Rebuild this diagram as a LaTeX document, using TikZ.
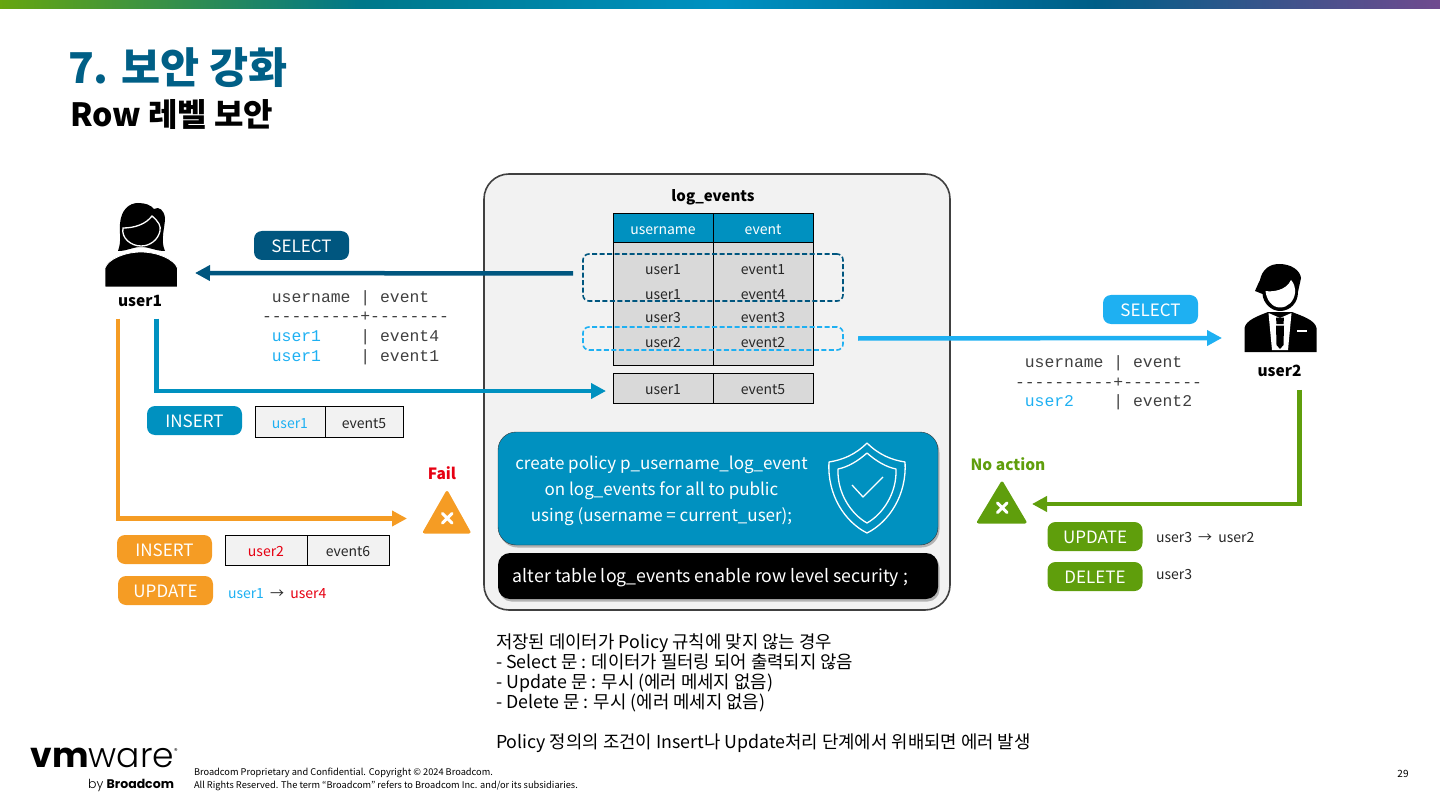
\documentclass[tikz,border=0pt]{standalone}
\usepackage{fontspec}
\setmainfont{Noto Sans CJK KR}
\newfontfamily\resultfont{Liberation Mono}
\newfontfamily\logofont{Poppins}
\newfontfamily\logolight{Poppins Light}
\usetikzlibrary{arrows.meta,positioning,shadows}
\definecolor{titleblue}{HTML}{005F86}
\definecolor{darkblue}{HTML}{00567F}
\definecolor{midblue}{HTML}{0091C0}
\definecolor{lightblue}{HTML}{1EB0F2}
\definecolor{flowgreen}{HTML}{5F9E0C}
\definecolor{floworange}{HTML}{F59C24}
\definecolor{failred}{HTML}{E60012}
\definecolor{textgray}{HTML}{262626}
\pgfdeclarehorizontalshading{barshade}{100bp}{rgb(0bp)=(0.40,0.65,0.06); rgb(25bp)=(0.40,0.65,0.06); rgb(37.5bp)=(0,0.47,0.54); rgb(50bp)=(0,0.57,0.76); rgb(63bp)=(0,0.37,0.53); rgb(75bp)=(0.44,0.29,0.56); rgb(100bp)=(0.44,0.29,0.56)}

\begin{document}
\begin{tikzpicture}[
  x=1pt, y=-1pt,
  every node/.style={inner sep=0pt, outer sep=0pt},
  pill/.style={rectangle, rounded corners=8pt, minimum width=95pt, minimum height=29pt, text=white, text height=15.5pt, text depth=1.5pt, font=\fontsize{17}{20}\selectfont},
  cell/.style={rectangle, draw=black, line width=1pt, fill=gray!10, minimum height=30pt, text height=14pt, text depth=1pt, font=\fontsize{14}{17}\selectfont, text=textgray},
  hdcell/.style={rectangle, draw=black, line width=1pt, fill=midblue, minimum width=100pt, minimum height=29pt, text=white, text height=14pt, text depth=1pt, font=\fontsize{14}{17}\selectfont},
  graycell/.style={rectangle, draw=black, line width=1pt, fill=black!15, minimum width=100pt, text height=14pt, text depth=1pt, font=\fontsize{14}{17}\selectfont, text=textgray},
  rowtxt/.style={minimum width=100pt, minimum height=24pt, text height=14pt, text depth=2pt, font=\fontsize{14}{17}\selectfont, text=textgray},
  hlbox/.style={rectangle, rounded corners=6pt, line width=1.6pt, dash pattern=on 5pt off 2.5pt, minimum width=260pt},
  result/.style={anchor=west, align=left, font=\resultfont\fontsize{16.4}{19.6}\selectfont, text=black!75},
  flow/.style={line width=4.5pt, -{Triangle[length=15pt,width=15pt]}},
  label/.style={font=\bfseries\fontsize{15.5}{18}\selectfont},
  note/.style={anchor=west, font=\fontsize{14}{17}\selectfont, text=textgray},
  warn/.style={line join=round, line width=3pt},
  cross/.style={draw=white, line width=3pt, line cap=round}
]
\useasboundingbox (0,0) rectangle (1440,810);

% Top bar and titles
\shade[shading=barshade] (0,0) rectangle (1440,9);
\node[anchor=base west, font=\bfseries\fontsize{42.5}{50}\selectfont, text=titleblue] (title) at (68,84) {7. 보안 강화};
\node[anchor=base west, font=\bfseries\fontsize{32}{36}\selectfont] (subtitle) at (70,126.5) {Row 레벨 보안};

% Central box
\node[rectangle, draw=black!75, line width=1.6pt, fill=black!5, rounded corners=25pt, minimum width=466pt, minimum height=436pt] (logbox) at (717,392) {};
\node[font=\bfseries\fontsize{15}{18}\selectfont] (tblname) at (713,197) {log\_events};

% Table
\node[hdcell] (hduser) at (663,228.5) {username};
\node[hdcell, right=0pt of hduser] (hdevent) {event};
\node[graycell, below=0pt of hduser, minimum height=122pt] (bduser) {};
\node[graycell, below=0pt of hdevent, minimum height=122pt] (bdevent) {};
\node[rowtxt] (u1) at (663,269) {user1};
\node[rowtxt, below=0pt of u1] (u2) {user1};
\node[rowtxt, below=0pt of u2] (u3) {user3};
\node[rowtxt, below=0pt of u3] (u4) {user2};
\node[rowtxt, right=0pt of u1] (e1) {event1};
\node[rowtxt, right=0pt of u2] (e2) {event4};
\node[rowtxt, right=0pt of u3] (e3) {event3};
\node[rowtxt, right=0pt of u4] (e4) {event2};
\node[graycell, minimum height=30pt] (newuser) at (663,388) {user1};
\node[graycell, minimum height=30pt, right=0pt of newuser] (newevent) {event5};

% Highlights
\node[hlbox, draw=darkblue, minimum height=47pt] (hldark) at (713,277.5) {};
\node[hlbox, draw=lightblue, minimum height=23pt] (hllight) at (713,338.5) {};

% Policy boxes
\node[rectangle, draw=black!80, fill=midblue, rounded corners=18pt, minimum width=440pt, minimum height=113pt, drop shadow={shadow xshift=1.5pt, shadow yshift=-2.5pt, opacity=0.55}] (policy) at (718,488.5) {};
\node[align=center, text=white, font=\fontsize{17}{26}\selectfont] (policytxt) at (661.5,491) {create policy p\_username\_log\_event\\on log\_events for all to public\\using (username = current\_user);};
\node[rectangle, fill=black, rounded corners=12pt, minimum width=440pt, minimum height=46pt, drop shadow={shadow xshift=1.5pt, shadow yshift=-2.5pt, opacity=0.55}] (alter) at (718,576) {};
\node[text=white, font=\fontsize{17.7}{20}\selectfont] (altertxt) at (710.5,578) {alter table log\_events enable row level security ;};

% Shield
\draw[white, line width=1.3pt, line join=round] (867,443) .. controls (855,455) and (842,460) .. (829,462) .. controls (827,495) and (845,522) .. (867,533) .. controls (889,522) and (907,495) .. (905,462) .. controls (892,460) and (879,455) .. (867,443) -- cycle;
\draw[white, line width=1.3pt, line join=round] (867,453) .. controls (858,461) and (848,467) .. (838,469) .. controls (837,493) and (851,514) .. (867,523) .. controls (883,514) and (897,493) .. (896,469) .. controls (886,467) and (876,461) .. (867,453) -- cycle;
\draw[white, line width=1.3pt, line join=round] (852,485) -- (863,497) -- (883,477);

% user1 icon
\fill[black] (118,251) .. controls (122,240) and (119,232) .. (120,224) .. controls (121,210) and (129,203) .. (138,203) .. controls (145,203) and (151,205) .. (154,209) .. controls (159,206) and (164,210) .. (165,218) .. controls (165,228) and (160,240) .. (165,251) .. controls (155,251) and (150,247) .. (141,247) .. controls (132,247) and (128,251) .. (118,251) -- cycle;
\draw[white, line width=1.3pt] (123,228) .. controls (135,228) and (146,224) .. (152,216) .. controls (159,222) and (161,226) .. (160,231) .. controls (158,240) and (150,246) .. (141,246) .. controls (131,246) and (121,238) .. (123,228) -- cycle;
\fill[black, draw=white, line width=0.8pt] (105,287) -- (105,268) .. controls (108,259) and (125,252) .. (141,252) .. controls (157,252) and (174,259) .. (177.5,268) -- (177.5,287) -- cycle;
\node[label] (user1) at (140,301) {user1};

% user2 icon
\fill[black] (1255,291) .. controls (1258,284) and (1259,282) .. (1260,280) .. controls (1262,270) and (1269,264) .. (1279,264) .. controls (1291,264) and (1300,270) .. (1301,278) .. controls (1300,283) and (1299,287) .. (1298,292) .. controls (1298,303) and (1290,311) .. (1280,311) .. controls (1271,311) and (1263,303) .. (1262.5,294) -- cycle;
\fill[white] (1265.5,291) .. controls (1272,292) and (1286,291) .. (1291,280) .. controls (1294,283) and (1295.5,288) .. (1295,293) .. controls (1294,301) and (1288,307.5) .. (1280,307.5) .. controls (1272,307.5) and (1266.5,300) .. (1265.5,291) -- cycle;
\fill[black] (1244.5,352) -- (1244.5,328) .. controls (1246,320) and (1258,316) .. (1268,312) -- (1292,312) .. controls (1302,316) and (1315,320) .. (1316.5,328) -- (1316.5,352) -- cycle;
\fill[white] (1268.5,313) -- (1280,318) -- (1291.5,313) -- (1288,350) -- (1272,350) -- cycle;
\fill[black] (1276,317.5) -- (1284,317.5) -- (1283.5,324) -- (1276.5,324) -- cycle;
\fill[black] (1276,325.5) -- (1284,325.5) -- (1283.5,345) -- (1280,349) -- (1276.5,345) -- cycle;
\draw[white, line width=2pt] (1297,331) -- (1307,331);
\node[label] (user2) at (1279.5,371) {user2};

% Arrows
\draw[flow, darkblue] ([xshift=-10pt,yshift=4pt]hldark.west) -- (195,273);
\draw[flow, lightblue] ([xshift=15pt]hllight.east) -- (1222,338);
\draw[flow, midblue] ([xshift=16.5pt,yshift=-12pt]user1.south) |- ([xshift=-7pt,yshift=-3pt]newuser.west);
\draw[flow, floworange] ([xshift=-22pt,yshift=-12pt]user1.south) |- (407,518.5);
\draw[flow, flowgreen] ([xshift=20pt,yshift=-13pt]user2.south) |- (1032,504);

% user1 labels
\node[pill, fill=darkblue] (sel1) at (301.5,245.5) {SELECT};
\node[result] (res1) at (262,327.5) {\ username | event\\----------+--------\\\ \textcolor{lightblue}{user1}\ \ \ \ | event4\\\ \textcolor{lightblue}{user1}\ \ \ \ | event1};
\node[pill, fill=midblue] (ins1) at (194.5,420.5) {INSERT};
\node[cell, minimum width=70pt, minimum height=31pt, text=lightblue] (insuser1) at (290,421.5) {user1};
\node[cell, minimum width=78pt, minimum height=31pt, right=0pt of insuser1] (insevent1) {event5};

% Fail
\node[font=\bfseries\fontsize{15.5}{18}\selectfont, text=failred] (fail) at (442,473) {Fail};
\fill[floworange, draw=floworange, warn] (447,492.5) -- (424.5,532) -- (469,532) -- cycle;
\draw[cross] (442.5,513.5) -- (452,523) (452,513.5) -- (442.5,523);
\node[pill, fill=floworange] (ins2) at (164.5,549.5) {INSERT};
\node[cell, minimum width=82pt, text=failred] (insuser2) at (266,550) {user2};
\node[cell, minimum width=82pt, right=0pt of insuser2] (insevent2) {event6};
\node[pill, fill=floworange] (upd1) at (165.5,590.5) {UPDATE};
\node[note] (upd1txt) at (228,594) {\textcolor{lightblue}{user1}\hspace{3pt} → \hspace{3pt}\textcolor{failred}{user4}};

% user2 labels
\node[pill, fill=lightblue] (sel2) at (1150.5,309.5) {SELECT};
\node[result] (res2) at (1015,383) {\ username | event\\----------+--------\\\ \textcolor{lightblue}{user2}\ \ \ \ | event2};

% No action
\node[font=\bfseries\fontsize{15.5}{18}\selectfont, text=flowgreen] (noaction) at (1008,464) {No action};
\fill[flowgreen, draw=flowgreen, warn] (1002,483) -- (978.5,522) -- (1025,522) -- cycle;
\draw[cross] (997.5,503) -- (1007,512.5) (1007,503) -- (997.5,512.5);
\node[pill, fill=flowgreen] (upd2) at (1095,536.5) {UPDATE};
\node[note] (upd2txt) at (1156,538) {user3\hspace{3pt} → \hspace{3pt}user2};
\node[pill, fill=flowgreen] (del2) at (1095,576.5) {DELETE};
\node[note] (del2txt) at (1156,575) {user3};

% Notes
\node[anchor=north west, align=left, font=\fontsize{17.8}{20}\selectfont] (rules) at (496,634) {저장된 데이터가 Policy 규칙에 맞지 않는 경우\\- Select 문 : 데이터가 필터링 되어 출력되지 않음\\- Update 문 : 무시 (에러 메세지 없음)\\- Delete 문 : 무시 (에러 메세지 없음)\\[20pt]Policy 정의의 조건이 Insert나 Update처리 단계에서 위배되면 에러 발생};

% Footer
\node[anchor=base east, font=\logofont\fontsize{34.5}{36}\selectfont] (logo) at (174,767) {\textbf{vm}{\logolight ware}};
\node[anchor=base west, font=\logofont\fontsize{7}{8}\selectfont] (reg) at (174,753) {®};
\node[anchor=base east, font=\logofont\fontsize{12.5}{14}\selectfont] (by) at (174,788) {{\logolight by} \textbf{Broadcom}};
\node[anchor=west, align=left, font=\fontsize{9.25}{13}\selectfont] (legal) at (194,779) {Broadcom Proprietary and Confidential. Copyright © 2024 Broadcom.\\All Rights Reserved. The term “Broadcom” refers to Broadcom Inc. and/or its subsidiaries.};
\node[font=\fontsize{10}{12}\selectfont] (pageno) at (1403,774) {29};
\end{tikzpicture}
\end{document}
